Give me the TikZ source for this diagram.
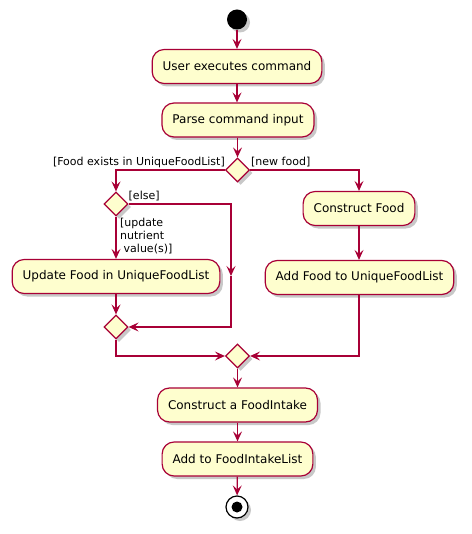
\documentclass[tikz,border=0pt]{standalone}
\usepackage{fontspec}
\setmainfont{DejaVu Sans}
\usetikzlibrary{arrows.meta,shapes.geometric,shadows,calc}
\definecolor{pfill}{HTML}{FEFECE}
\definecolor{pline}{HTML}{A80036}
\begin{document}
\begin{tikzpicture}[x=1pt,y=-1pt,
  shad/.style={drop shadow={shadow xshift=3pt,shadow yshift=-3pt,opacity=0.3,fill=black!70}},
  act/.style={draw=pline, fill=pfill, line width=1.2pt, rounded corners=12pt,
    minimum height=34pt, inner xsep=10.5pt, inner ysep=0pt,
    font=\fontsize{12pt}{14pt}\selectfont, shad},
  dec/.style={diamond, draw=pline, fill=pfill, line width=1.2pt, aspect=1,
    minimum width=24pt, minimum height=24pt, inner sep=0pt, shad},
  flow/.style={draw=pline, line width=1.2pt, -{Stealth[length=10pt,width=9pt,inset=4pt]}},
  lbl/.style={font=\fontsize{11pt}{13pt}\selectfont, inner sep=0pt, text=black}]
\fill[white] (0,0) rectangle (471,534);
\useasboundingbox (0,0) rectangle (471,534);

\node[circle, fill=black, minimum size=20pt, inner sep=0pt, shad] (start) at (237,19.5) {};
\node[act] (a1) at (237,66.5) {User executes command};
\node[act] (a2) at (238,120) {Parse command input};
\node[dec] (d1) at (237.5,170) {};
\node[dec] (d2) at (116,204) {};
\node[act] (a3) at (116,276.5) {Update Food in UniqueFoodList};
\node[dec] (d3) at (116,327) {};
\node[act] (a4) at (359,208.5) {Construct Food};
\node[act] (a5) at (359.5,277.5) {Add Food to UniqueFoodList};
\node[dec] (d4) at (237.5,356) {};
\node[act] (a6) at (237.5,405) {Construct a FoodIntake};
\node[act] (a7) at (237.5,459) {Add to FoodIntakeList};
\node[circle, draw=black, fill=white, line width=1.2pt, minimum size=22pt, inner sep=0pt, shad,
  path picture={\fill[black] (path picture bounding box.center) circle (5.5pt);}] (stop) at (237,507) {};

\coordinate (eTop) at (231,204);
\coordinate (eMid) at (231,276);

\draw[flow] (start) -- (a1);
\draw[flow] (a1) -- (a1.south |- a2.north);
\draw[flow] (a2.south -| d1.north) -- (d1.north);
\draw[flow] (d1.west) -| (d2.north);
\draw[flow] (d1.east) -| (a4.north);
\draw[flow] (d2.south) -- (a3.north);
\draw[flow] (d2.east) -- (eTop) -- (eMid);
\draw[flow] (eMid) -- (eTop |- d3.east) -- (d3.east);
\draw[flow] (a3.south) -- (d3.north);
\draw[flow] (d3.south) |- (d4.west);
\draw[flow] (a4.south) -- (a4.south |- a5.north);
\draw[flow] (a5.south -| a4.south) |- (d4.east);
\draw[flow] (d4.south) -- (a6.north);
\draw[flow] (a6) -- (a7);
\draw[flow] (a7) -- (stop);

\node[lbl, anchor=base east] (l1) at (225,166) {[Food exists in UniqueFoodList]};
\node[lbl, anchor=base west] (l2) at (251,166) {[new food]};
\node[lbl, anchor=base west] (l3) at (128.5,200) {[else]};
\node[lbl, anchor=north west, align=left] (l4) at (120,217.5) {[update\\nutrient\\\hspace*{3.5pt}value(s)]};
\end{tikzpicture}
\end{document}
